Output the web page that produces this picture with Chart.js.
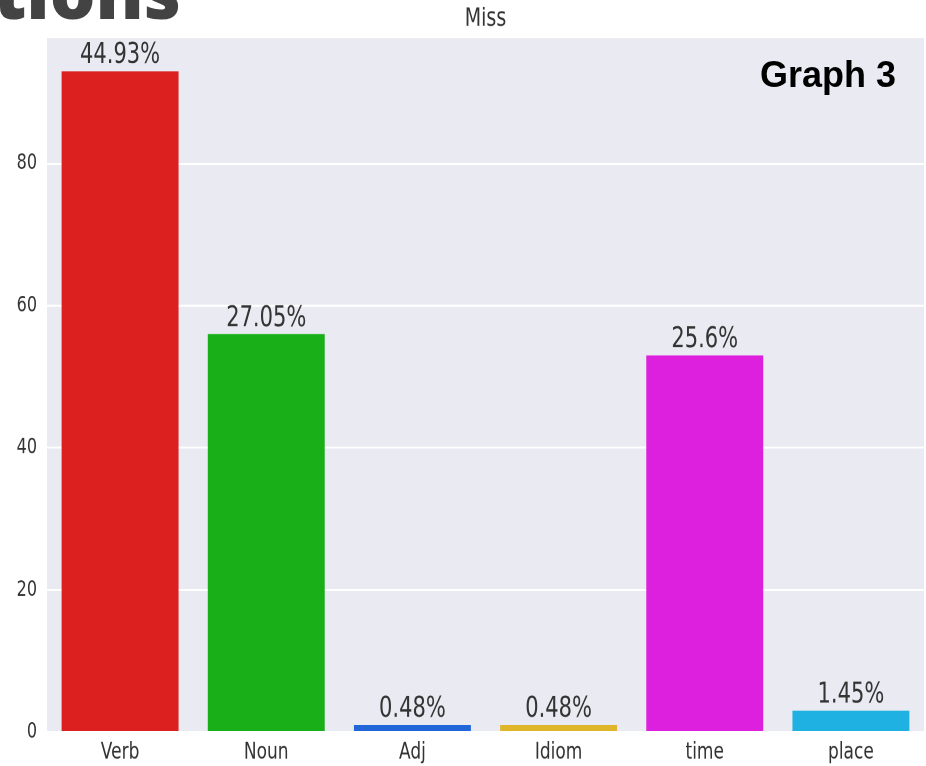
<!DOCTYPE html>
<html>
<head>
<meta charset="utf-8">
<script src="https://cdn.jsdelivr.net/npm/chart.js@4/dist/chart.umd.min.js"></script>
<style>
  html, body { margin: 0; padding: 0; background: #fff; width: 926px; height: 766px; overflow: hidden; }
  #wrap { position: absolute; left: 0; top: 0; width: 926px; height: 567px; transform: scaleY(1.351); transform-origin: 0 0; }
  .slideText { position: absolute; white-space: nowrap; line-height: 1; }
  #heading { right: calc(926px - 181px); top: -45px; font-family: "Open Sans", sans-serif; font-weight: 800; font-size: 72px; color: #434343; }
  #graphTag { right: calc(926px - 896px); top: 57px; font-family: "Liberation Sans", Arial, sans-serif; font-weight: bold; font-size: 36px; color: #000; }
</style>
</head>
<body>
<div id="wrap"><canvas id="missChart" width="926" height="567"></canvas></div>
<div class="slideText" id="heading">ctions</div>
<div class="slideText" id="graphTag">Graph 3</div>
<script>
// --- Données ---
const categories = ["Verb", "Noun", "Adj", "Idiom", "time", "place"];
const counts = [93, 56, 1, 1, 53, 3];
const percentLabels = ["44.93%", "27.05%", "0.48%", "0.48%", "25.6%", "1.45%"];
const yTicks = [0, 20, 40, 60, 80];
const chartTitle = "Miss";
const barColors = ['#dc1f1f', '#19af19', '#2166d8', '#dfb52a', '#dd20dd', '#1eb1e1'];

const textColor = '#333333';
const fontFamily = "'DejaVu Sans', sans-serif";

// fond gris seaborn + titre centré sur la zone du graphique
const plotBackground = {
    id: 'plotBackground',
    beforeDraw(chart) {
        const { ctx, chartArea } = chart;
        ctx.save();
        ctx.fillStyle = '#ffffff';
        ctx.fillRect(0, 0, chart.width, chart.height);
        ctx.fillStyle = '#eaeaf2';
        ctx.fillRect(chartArea.left, chartArea.top, chartArea.right - chartArea.left, chartArea.bottom - chartArea.top);
        ctx.font = `19px ${fontFamily}`;
        ctx.fillStyle = textColor;
        ctx.textAlign = 'center';
        ctx.textBaseline = 'middle';
        ctx.fillText(chartTitle, (chartArea.left + chartArea.right) / 2, chartArea.top / 2);
        ctx.restore();
    }
};

// pourcentages au-dessus des barres
const barLabels = {
    id: 'barLabels',
    afterDatasetsDraw(chart) {
        const { ctx } = chart;
        const meta = chart.getDatasetMeta(0);
        ctx.save();
        ctx.font = `21px ${fontFamily}`;
        ctx.fillStyle = textColor;
        ctx.textAlign = 'center';
        ctx.textBaseline = 'alphabetic';
        meta.data.forEach((bar, i) => {
            ctx.fillText(percentLabels[i], bar.x, bar.y - 6);
        });
        ctx.restore();
    }
};

new Chart(document.getElementById("missChart").getContext("2d"), {
    type: 'bar',
    data: {
        labels: categories,
        datasets: [{
            data: counts,
            backgroundColor: barColors,
            borderWidth: 0,
            categoryPercentage: 0.8,
            barPercentage: 1.0
        }]
    },
    options: {
        responsive: false,
        devicePixelRatio: 2,
        animation: false,
        layout: { padding: { left: 0, right: 2, top: 28, bottom: 0 } },
        plugins: {
            legend: { display: false },
            tooltip: { enabled: false },
            title: { display: false }
        },
        scales: {
            x: {
                grid: { display: false, drawTicks: false },
                border: { display: false },
                ticks: {
                    color: textColor,
                    padding: 5,
                    font: { family: fontFamily, size: 17 }
                },
                afterFit(axis) { axis.height = 25.2; }
            },
            y: {
                min: 0,
                max: 97.7,
                grid: { color: '#ffffff', lineWidth: 1.5, drawTicks: false },
                border: { display: false },
                ticks: {
                    color: textColor,
                    padding: 10,
                    font: { family: fontFamily, size: 16 }
                },
                afterBuildTicks(axis) {
                    axis.ticks = yTicks.map(v => ({ value: v }));
                },
                afterFit(axis) { axis.width = 47; }
            }
        }
    },
    plugins: [plotBackground, barLabels]
});
</script>
</body>
</html>
